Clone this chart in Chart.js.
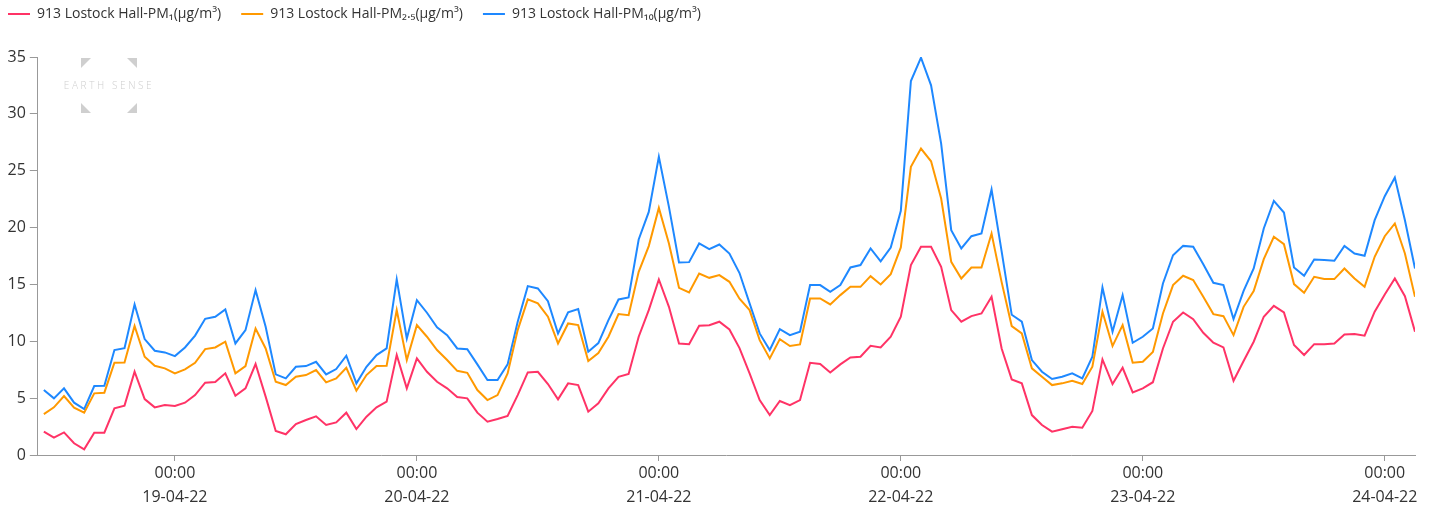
<!DOCTYPE html>
<html>
<head>
<meta charset="utf-8">
<script src="https://cdn.jsdelivr.net/npm/chart.js@4.4.0/dist/chart.umd.min.js"></script>
<style>
html,body{margin:0;padding:0;background:#fff;}
#wrap{position:relative;width:1433px;height:509px;}
</style>
</head>
<body>
<div id="wrap"><canvas id="c" width="1433" height="509"></canvas></div>
<script>
// hour offsets relative to 19-04-22 00:00 ; first reading 18-04-22 11:00
const firstHour = -13;
const dayLabels = ['19-04-22', '20-04-22', '21-04-22', '22-04-22', '23-04-22', '24-04-22'];
const tickTime = '00:00';
const seriesNames = ['913 Lostock Hall-PM\u2081(\u00b5g/m\u00b3)', '913 Lostock Hall-PM\u2082.\u2085(\u00b5g/m\u00b3)', '913 Lostock Hall-PM\u2081\u2080(\u00b5g/m\u00b3)'];
const seriesColors = ['rgb(255,51,102)', 'rgb(255,153,0)', 'rgb(30,136,255)'];
const yTickValues = [0, 5, 10, 15, 20, 25, 30, 35];

const pm1 = [2.05,1.52,1.99,1.03,0.5,1.96,1.96,4.1,4.34,7.32,4.92,4.19,4.39,
 4.31,4.6,5.27,6.36,6.41,7.18,5.21,5.86,8.0,5.13,2.11,1.82,2.72,3.08,
 3.4,2.64,2.87,3.72,2.28,3.37,4.19,4.69,8.79,5.86,
 8.49,7.32,6.44,5.86,5.1,4.98,3.72,2.93,3.16,3.43,
 5.27,7.26,7.32,6.24,4.89,6.3,6.15,3.81,4.54,5.86,
 6.88,7.12,10.4,12.74,15.44,13.03,9.81,9.75,11.36,11.42,
 11.72,11.04,9.4,7.18,4.83,3.51,4.75,4.39,4.83,8.11,
 8.0,7.26,7.97,8.58,8.64,9.61,9.46,10.4,12.16,16.7,
 18.31,18.31,16.55,12.74,11.72,12.21,12.45,13.91,9.37,6.65,
 6.3,3.51,2.64,2.05,2.26,2.49,2.4,3.87,8.41,6.24,
 7.67,5.51,5.86,6.4,9.37,11.72,12.54,11.95,10.75,9.87,
 9.46,6.53,8.26,9.96,12.16,13.12,12.54,9.67,8.79,9.75,
 9.75,9.81,10.6,10.63,10.49,12.6,14.12,15.52,13.97,10.84];

const pm25 = [3.6,4.19,5.18,4.16,3.72,5.42,5.48,8.11,8.14,11.34,8.64,7.85,7.62,
 7.18,7.53,8.11,9.31,9.46,9.96,7.18,7.82,11.13,9.37,6.44,6.15,6.88,7.03,
 7.47,6.39,6.74,7.67,5.65,7.03,7.82,7.85,12.74,8.35,
 11.42,10.4,9.23,8.35,7.4,7.23,5.71,4.83,5.27,7.18,
 10.98,13.68,13.33,12.16,9.81,11.57,11.42,8.26,8.96,10.4,
 12.39,12.3,16.11,18.37,21.73,18.6,14.7,14.29,15.96,15.58,
 15.82,15.23,13.75,12.74,10.1,8.49,10.19,9.58,9.72,13.77,
 13.77,13.24,14.06,14.79,14.79,15.73,15.0,15.9,18.25,25.34,
 26.95,25.83,22.55,16.99,15.52,16.49,16.49,19.48,15.2,11.34,
 10.69,7.62,6.88,6.15,6.3,6.53,6.24,7.76,12.6,9.58,
 11.42,8.11,8.2,9.05,12.45,14.94,15.76,15.38,13.91,12.39,
 12.21,10.54,13.03,14.41,17.22,19.19,18.54,15.03,14.26,15.67,
 15.47,15.47,16.4,15.52,14.79,17.43,19.24,20.36,17.72,13.91];

const pm10 = [5.71,4.98,5.86,4.6,4.04,6.06,6.09,9.23,9.4,13.24,10.19,9.17,9.02,
 8.7,9.46,10.5,11.98,12.16,12.8,9.81,10.98,14.5,11.28,7.09,6.74,7.76,7.82,
 8.2,7.09,7.56,8.73,6.3,7.76,8.79,9.37,15.44,10.25,
 13.62,12.51,11.22,10.54,9.37,9.31,7.97,6.59,6.59,7.97,
 11.72,14.85,14.65,13.53,10.69,12.54,12.83,9.08,9.84,11.86,
 13.68,13.85,18.95,21.38,26.22,21.82,16.93,16.96,18.6,18.1,
 18.51,17.72,16.0,13.33,10.69,9.23,11.07,10.54,10.84,14.94,
 14.94,14.35,14.94,16.49,16.7,18.16,17.03,18.25,21.47,32.89,
 34.94,32.51,27.39,19.77,18.16,19.24,19.48,23.35,17.9,12.33,
 11.72,8.35,7.32,6.68,6.88,7.18,6.74,8.64,14.73,10.84,
 14.06,9.87,10.4,11.13,15.08,17.57,18.39,18.31,16.78,15.14,
 14.94,11.95,14.44,16.4,19.92,22.35,21.32,16.49,15.76,17.19,
 17.14,17.08,18.39,17.72,17.52,20.65,22.76,24.4,20.65,16.4];

const FONT = "'Open Sans', 'DejaVu Sans', sans-serif";
const toPoints = arr => arr.map((v, i) => ({x: firstHour + i, y: v}));
const seriesValues = [pm1, pm25, pm10];

const watermark = {
  id: 'watermark',
  beforeDatasetsDraw(chart) {
    const ctx = chart.ctx;
    ctx.save();
    ctx.fillStyle = '#cfcfcf';
    const tri = (pts) => { ctx.beginPath(); ctx.moveTo(pts[0], pts[1]); ctx.lineTo(pts[2], pts[3]); ctx.lineTo(pts[4], pts[5]); ctx.closePath(); ctx.fill(); };
    tri([81, 58, 91, 58, 81, 68]);
    tri([137, 58, 127, 58, 137, 68]);
    tri([81, 113, 81, 103, 91, 113]);
    tri([137, 113, 137, 103, 127, 113]);
    ctx.font = "300 10px " + FONT;
    try { ctx.letterSpacing = '2.6px'; } catch (e) {}
    ctx.textAlign = 'center';
    ctx.textBaseline = 'middle';
    ctx.fillText('EARTH SENSE', 109, 86.5);
    ctx.restore();
  }
};

const legendShift = {
  id: 'legendShift',
  afterLayout(chart) {
    chart.legend.left = -12;
    chart.legend.top = -13;
  }
};

new Chart(document.getElementById('c'), {
  type: 'line',
  data: {
    datasets: seriesValues.map((vals, k) => ({
      label: seriesNames[k],
      data: toPoints(vals),
      borderColor: seriesColors[k],
      backgroundColor: seriesColors[k],
      borderWidth: 2,
      pointRadius: 0,
      pointHoverRadius: 0,
      tension: 0,
      fill: false
    }))
  },
  options: {
    responsive: false,
    animation: false,
    devicePixelRatio: 1,
    layout: { padding: { left: 3.5, right: 18, top: 13, bottom: 0 } },
    plugins: {
      legend: {
        position: 'top',
        align: 'start',
        labels: {
          usePointStyle: true,
          pointStyle: 'line',
          pointStyleWidth: 22,
          padding: 20,
          color: '#333',
          font: { family: FONT, size: 14 }
        }
      },
      tooltip: { enabled: false }
    },
    scales: {
      x: {
        type: 'linear',
        min: -13.6,
        max: 123,
        ticks: {
          stepSize: 24,
          includeBounds: false,
          autoSkip: false,
          maxRotation: 0,
          padding: 0,
          color: '#333',
          font: { family: FONT, size: 16, lineHeight: 1.5 },
          callback: v => (v % 24 === 0 && v >= 0) ? [tickTime, dayLabels[v / 24]] : ''
        },
        grid: { drawOnChartArea: false, tickLength: 6, color: '#999' },
        border: { color: '#999', width: 1 }
      },
      y: {
        min: 0,
        max: 35,
        afterBuildTicks: s => { s.ticks = yTickValues.map(v => ({value: v})); },
        ticks: {
          padding: 4,
          color: '#333',
          font: { family: FONT, size: 16 }
        },
        grid: { drawOnChartArea: false, tickLength: 8, color: '#999' },
        border: { color: '#999', width: 1 }
      }
    }
  },
  plugins: [watermark, legendShift]
});
</script>
</body>
</html>
